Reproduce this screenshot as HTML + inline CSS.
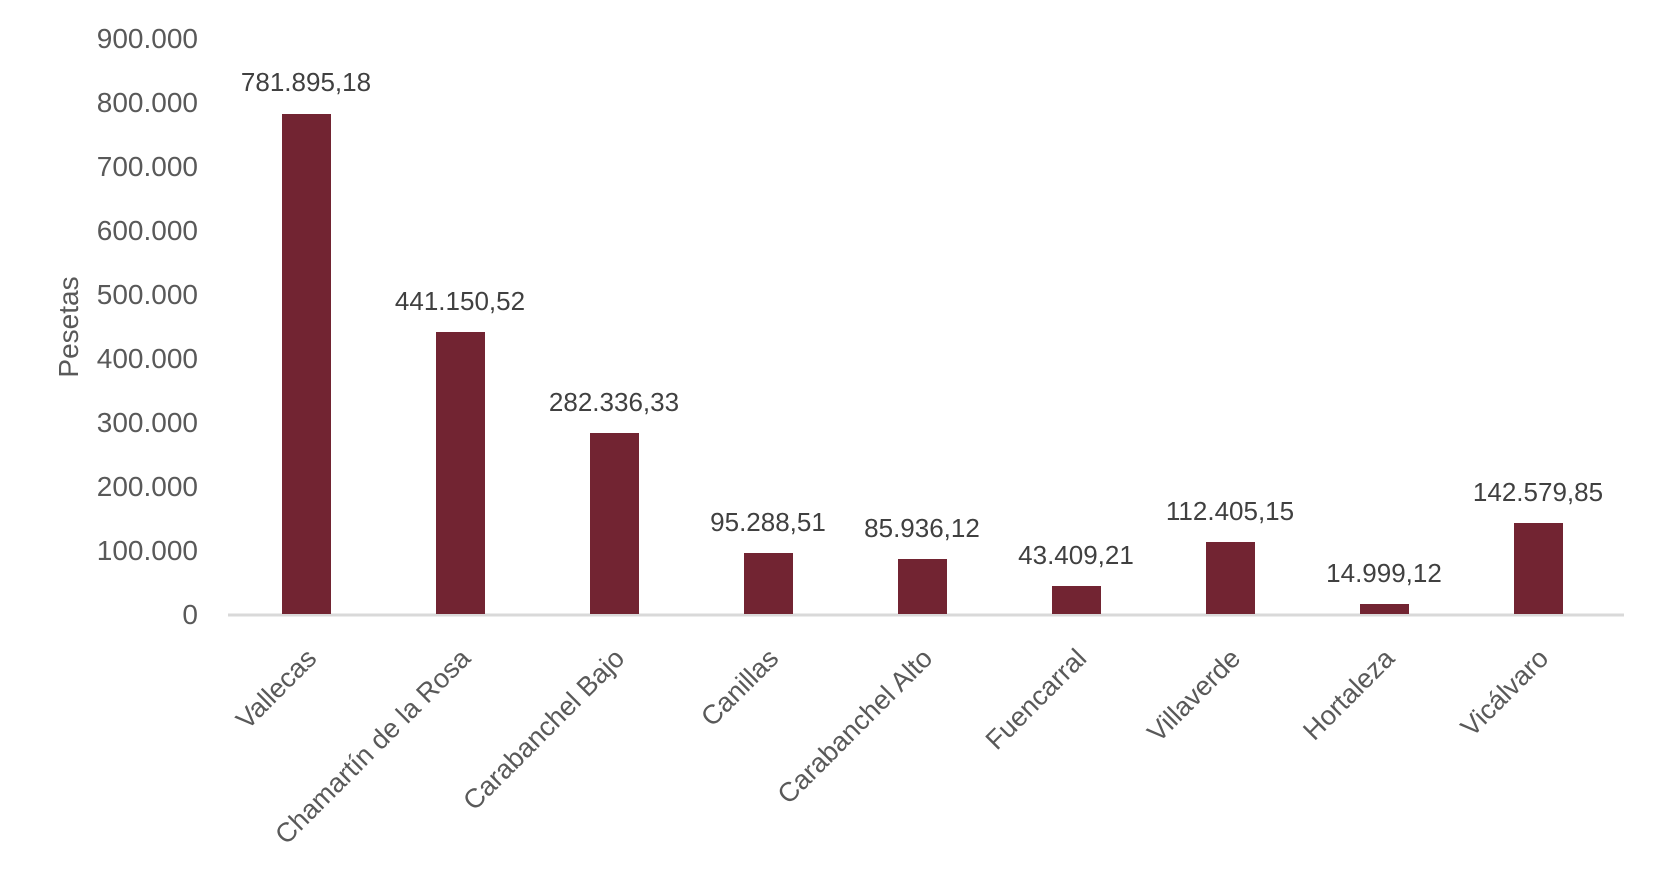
<!DOCTYPE html>
<html><head><meta charset="utf-8"><style>html,body{margin:0;padding:0;background:#fff}</style></head>
<body>
<svg width="1654" height="874" xmlns="http://www.w3.org/2000/svg" font-family="'Liberation Sans', sans-serif">
<g font-size="28" fill="#595959" text-anchor="end">
<text x="198" y="48">900.000</text>
<text x="198" y="112">800.000</text>
<text x="198" y="176">700.000</text>
<text x="198" y="240">600.000</text>
<text x="198" y="304">500.000</text>
<text x="198" y="368">400.000</text>
<text x="198" y="432">300.000</text>
<text x="198" y="496">200.000</text>
<text x="198" y="560">100.000</text>
<text x="198" y="624">0</text>
</g>
<text transform="translate(78,327) rotate(-90)" font-size="28" fill="#595959" text-anchor="middle">Pesetas</text>
<line x1="228" y1="615" x2="1624" y2="615" stroke="#d9d9d9" stroke-width="3"/>
<g fill="#722432">
<rect x="282" y="114" width="49" height="500"/>
<rect x="436" y="332" width="49" height="282"/>
<rect x="590" y="433" width="49" height="181"/>
<rect x="744" y="553" width="49" height="61"/>
<rect x="898" y="559" width="49" height="55"/>
<rect x="1052" y="586" width="49" height="28"/>
<rect x="1206" y="542" width="49" height="72"/>
<rect x="1360" y="604" width="49" height="10"/>
<rect x="1514" y="523" width="49" height="91"/>
</g>
<g font-size="26" fill="#404040" text-anchor="middle">
<text x="306" y="91">781.895,18</text>
<text x="460" y="310">441.150,52</text>
<text x="614" y="411">282.336,33</text>
<text x="768" y="531">95.288,51</text>
<text x="922" y="537">85.936,12</text>
<text x="1076" y="564">43.409,21</text>
<text x="1230" y="520">112.405,15</text>
<text x="1384" y="582">14.999,12</text>
<text x="1538" y="501">142.579,85</text>
</g>
<g font-size="27" fill="#595959" text-anchor="end">
<text transform="translate(318,660) rotate(-45)">Vallecas</text>
<text transform="translate(472,660) rotate(-45)">Chamartín de la Rosa</text>
<text transform="translate(626,660) rotate(-45)">Carabanchel Bajo</text>
<text transform="translate(780,660) rotate(-45)">Canillas</text>
<text transform="translate(934,660) rotate(-45)">Carabanchel Alto</text>
<text transform="translate(1088,660) rotate(-45)">Fuencarral</text>
<text transform="translate(1242,660) rotate(-45)">Villaverde</text>
<text transform="translate(1396,660) rotate(-45)">Hortaleza</text>
<text transform="translate(1550,660) rotate(-45)">Vicálvaro</text>
</g>
</svg>
</body></html>
